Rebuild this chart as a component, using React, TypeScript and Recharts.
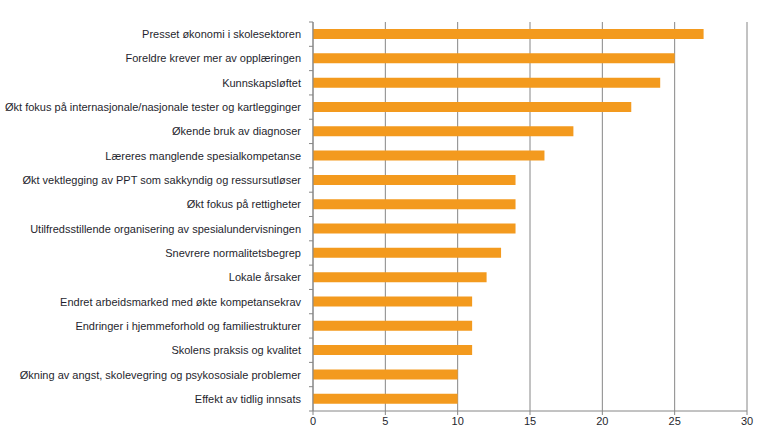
import React from "react";
import { Bar, BarChart, CartesianGrid, XAxis, YAxis } from "recharts";

const categories = [
  "Presset økonomi i skolesektoren",
  "Foreldre krever mer av opplæringen",
  "Kunnskapsløftet",
  "Økt fokus på internasjonale/nasjonale tester og kartlegginger",
  "Økende bruk av diagnoser",
  "Læreres manglende spesialkompetanse",
  "Økt vektlegging av PPT som sakkyndig og ressursutløser",
  "Økt fokus på rettigheter",
  "Utilfredsstillende organisering av spesialundervisningen",
  "Snevrere normalitetsbegrep",
  "Lokale årsaker",
  "Endret arbeidsmarked med økte kompetansekrav",
  "Endringer i hjemmeforhold og familiestrukturer",
  "Skolens praksis og kvalitet",
  "Økning av angst, skolevegring og psykososiale problemer",
  "Effekt av tidlig innsats",
];
const values = [27, 25, 24, 22, 18, 16, 14, 14, 14, 13, 12, 11, 11, 11, 10, 10];
const xTicks = [0, 5, 10, 15, 20, 25, 30];

const data = categories.map((label, i) => ({ label, value: values[i] }));

const W = 769;
const H = 442;
const X_AXIS_H = 30;
const M = { top: 22, right: 22, bottom: 1, left: 0 };
const STEP = (H - M.top - M.bottom - X_AXIS_H) / categories.length;
const FONT = "'Liberation Sans', Arial, sans-serif";
const AXIS = "#868686";

function CatTick(props: any) {
  const { x, y, payload, index } = props;
  return (
    <g>
      <line x1={x - 4} x2={x} y1={y - STEP / 2} y2={y - STEP / 2} stroke={AXIS} />
      {index === categories.length - 1 && (
        <line x1={x - 4} x2={x} y1={y + STEP / 2} y2={y + STEP / 2} stroke={AXIS} />
      )}
      <text x={x - 12} y={y} dy={4} textAnchor="end" fontSize={11} fill="#1f1f2e" fontFamily={FONT}>
        {payload.value}
      </text>
    </g>
  );
}

export default function App() {
  return (
    <div style={{ position: "absolute", left: 0, top: 0, width: W, height: H, background: "#fff" }}>
      <BarChart width={W} height={H} data={data} layout="vertical" margin={M}>
        <CartesianGrid horizontal={false} stroke={AXIS} />
        <XAxis
          type="number"
          domain={[0, 30]}
          ticks={xTicks}
          stroke={AXIS}
          tickSize={4}
          height={X_AXIS_H}
          tick={{ fill: "#1f1f2e", fontSize: 11, fontFamily: FONT }}
        />
        <YAxis
          dataKey="label"
          type="category"
          width={313}
          stroke={AXIS}
          tickLine={false}
          tickMargin={0}
          tickSize={0}
          interval={0}
          tick={<CatTick />}
        />
        <Bar dataKey="value" fill="#F39A1E" barSize={10} isAnimationActive={false} />
      </BarChart>
    </div>
  );
}
